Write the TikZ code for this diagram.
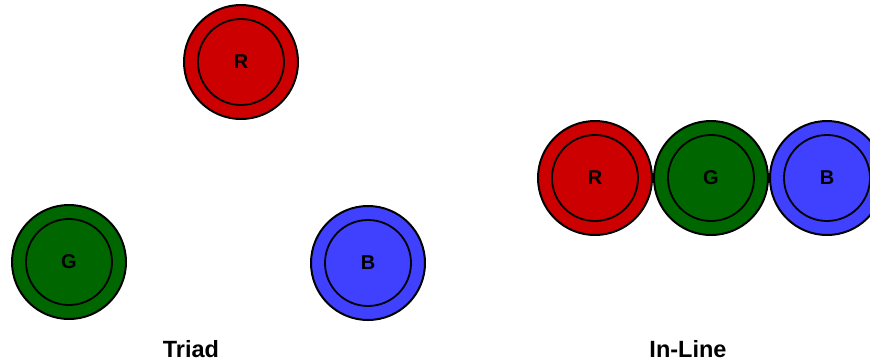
\documentclass[tikz,border=0pt]{standalone}
\usepackage{fontspec}
\setmainfont{Liberation Sans}
\usetikzlibrary{positioning}
\definecolor{dotred}{HTML}{CC0000}
\definecolor{dotgreen}{HTML}{006600}
\definecolor{dotblue}{HTML}{4040FF}

\begin{document}
\begin{tikzpicture}[
  x=1pt, y=-1pt,
  dot/.style={
    circle, draw=black, line width=2pt, minimum size=114pt,
    inner sep=0pt, font=\bfseries\fontsize{20}{20}\selectfont,
    path picture={\draw[line width=1.8pt] (path picture bounding box.center) circle (43pt);}
  },
  caption/.style={font=\bfseries\fontsize{23.5}{23.5}\selectfont, anchor=base},
]
  \useasboundingbox (0,0) rectangle (870,362);
  \clip (0,0) rectangle (870,362);

  % Triad arrangement
  \node[dot, fill=dotred]   (triR) at (241,62)  {R};
  \node[dot, fill=dotgreen] (triG) at (69,262)  {G};
  \node[dot, fill=dotblue]  (triB) at (368,263) {B};
  \node[caption] (trilbl) at (191,357) {Triad};

  % In-line arrangement
  \node[dot, fill=dotred]   (inR) at (595,178) {R};
  \node[dot, fill=dotgreen, right=0pt of inR] (inG) {G};
  \node[dot, fill=dotblue,  right=0pt of inG] (inB) {B};
  \node[caption] (inlbl) at (688,357) {In-Line};

\end{tikzpicture}
\end{document}
